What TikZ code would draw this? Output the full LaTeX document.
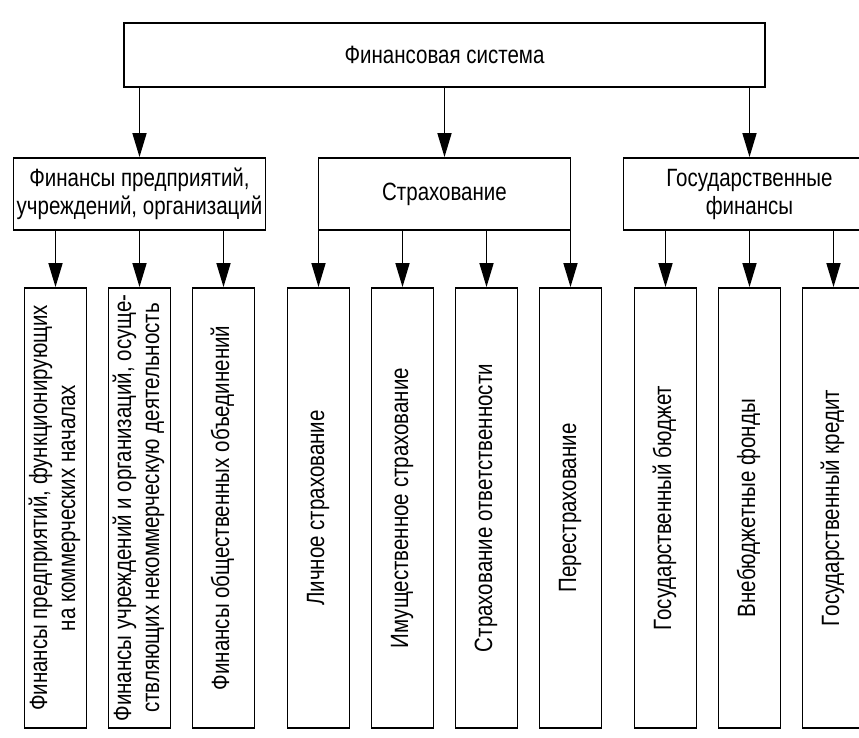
\documentclass[tikz,border=0pt]{standalone}
\usepackage{fontspec}
\setmainfont{Liberation Sans}[FakeStretch=0.82]
\usepackage{graphicx, tikz}
\usetikzlibrary{arrows.meta, trees}

\newcommand{\vtext}[1]{\rotatebox{90}{\begin{tabular}{@{}c@{}}#1\end{tabular}}}

\begin{document}
\begin{tikzpicture}[
        x=1pt, y=1pt,
        every node/.style={draw, line width=1.8pt, align=center,
          font=\fontsize{25}{28}\selectfont},
        topbox/.style={minimum width=641pt, minimum height=64pt},
        groupbox/.style={minimum width=252pt, minimum height=72pt, inner xsep=3pt},
        itembox/.style={minimum width=62pt, minimum height=440pt, inner sep=2pt},
        level 1/.style={level distance=139pt, sibling distance=305pt},
        level 2/.style={level distance=314pt, sibling distance=84pt},
        edge from parent/.style={draw, line width=1.6pt,
          -{Triangle[length=24pt, width=14pt]}},
        edge from parent path={(\tikzchildnode.north |- \tikzparentnode.south) -- (\tikzchildnode.north)}
      ]
      \useasboundingbox (0,0) rectangle (859,-738);
      \node[topbox] (fin) at (444.5,-55) {Финансовая система}
        child {
          node[groupbox] (ent) {Финансы предприятий,\\ учреждений, организаций}
          child { node[itembox] (ent1) {\vtext{Финансы предприятий, функционирующих\\ на коммерческих началах}} }
          child { node[itembox] (ent2) {\vtext{Финансы учреждений и организаций, осуще-\\ ствляющих некоммерческую деятельность}} }
          child { node[itembox] (ent3) {\vtext{Финансы общественных объединений}} }
        }
        child {
          node[groupbox] (ins) {Страхование}
          child { node[itembox] (ins1) {\vtext{Личное страхование}} }
          child { node[itembox] (ins2) {\vtext{Имущественное страхование}} }
          child { node[itembox] (ins3) {\vtext{Страхование ответственности}} }
          child { node[itembox] (ins4) {\vtext{Перестрахование}} }
        }
        child {
          node[groupbox] (gov) {Государственные\\ финансы}
          child { node[itembox] (gov1) {\vtext{Государственный бюджет}} }
          child { node[itembox] (gov2) {\vtext{Внебюджетные фонды}} }
          child { node[itembox] (gov3) {\vtext{Государственный кредит}} }
        };
      \end{tikzpicture}
\end{document}
